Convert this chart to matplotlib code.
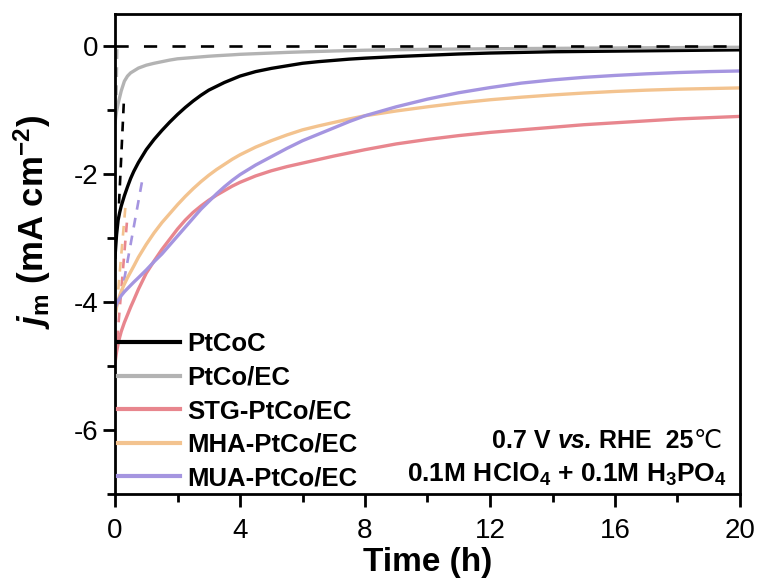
import matplotlib
matplotlib.use("Agg")
import matplotlib.pyplot as plt
from matplotlib.ticker import MultipleLocator

plt.rcParams['font.family'] = ['Liberation Sans', 'DejaVu Sans']
plt.rcParams['axes.unicode_minus'] = False
plt.rcParams['mathtext.fontset'] = 'custom'
plt.rcParams['mathtext.rm'] = 'Liberation Sans:bold'
plt.rcParams['mathtext.bf'] = 'Liberation Sans:bold'
plt.rcParams['mathtext.it'] = 'Liberation Sans:bold:italic'
plt.rcParams['mathtext.bfit'] = 'Liberation Sans:bold:italic'
plt.rcParams['lines.scale_dashes'] = False

# ---------------- data ----------------
t = [0, 0.05, 0.1, 0.15, 0.2, 0.3, 0.4, 0.5, 0.6, 0.75,
     1, 1.25, 1.5, 1.75, 2, 2.25, 2.5, 2.75, 3, 3.25,
     3.5, 3.75, 4, 4.5, 5, 5.5, 6, 6.5, 7, 7.5,
     8, 9, 10, 11, 12, 13, 14, 15, 16, 17,
     18, 19, 20]

ptcoc = [-3.3, -2.95, -2.72, -2.6, -2.5, -2.34, -2.2, -2.07, -1.96, -1.82,
         -1.62, -1.46, -1.32, -1.19, -1.07, -0.96, -0.86, -0.77, -0.69, -0.63,
         -0.57, -0.52, -0.47, -0.4, -0.35, -0.31, -0.27, -0.245, -0.225, -0.205,
         -0.19, -0.165, -0.145, -0.125, -0.11, -0.1, -0.09, -0.085, -0.08, -0.075,
         -0.07, -0.065, -0.06]
ptco_ec = [-1.2, -1.02, -0.9, -0.8, -0.7, -0.55, -0.47, -0.42, -0.39, -0.345,
           -0.3, -0.27, -0.245, -0.22, -0.2, -0.19, -0.18, -0.17, -0.16, -0.152,
           -0.145, -0.138, -0.13, -0.12, -0.11, -0.1, -0.092, -0.085, -0.078, -0.072,
           -0.066, -0.058, -0.052, -0.047, -0.043, -0.04, -0.037, -0.034, -0.031, -0.028,
           -0.025, -0.022, -0.02]
stg = [-4.95, -4.78, -4.65, -4.55, -4.46, -4.32, -4.2, -4.08, -3.97, -3.8,
       -3.55, -3.36, -3.18, -3.02, -2.86, -2.72, -2.6, -2.5, -2.41, -2.33,
       -2.26, -2.19, -2.13, -2.03, -1.95, -1.885, -1.83, -1.775, -1.72, -1.67,
       -1.62, -1.53, -1.46, -1.4, -1.35, -1.31, -1.27, -1.23, -1.2, -1.17,
       -1.14, -1.12, -1.1]
mha = [-4.25, -4.08, -3.98, -3.9, -3.83, -3.72, -3.62, -3.53, -3.44, -3.3,
       -3.1, -2.92, -2.76, -2.62, -2.48, -2.35, -2.23, -2.12, -2.02, -1.93,
       -1.85, -1.77, -1.7, -1.58, -1.48, -1.39, -1.31, -1.25, -1.195, -1.14,
       -1.09, -1.015, -0.95, -0.89, -0.84, -0.8, -0.765, -0.735, -0.71, -0.69,
       -0.675, -0.665, -0.655]
mua = [-4.1, -4.03, -3.98, -3.94, -3.9, -3.84, -3.79, -3.74, -3.69, -3.62,
       -3.5, -3.37, -3.25, -3.11, -2.97, -2.83, -2.69, -2.55, -2.43, -2.31,
       -2.2, -2.1, -2.01, -1.86, -1.73, -1.6, -1.48, -1.38, -1.28, -1.18,
       -1.09, -0.95, -0.83, -0.73, -0.65, -0.58, -0.53, -0.49, -0.46, -0.435,
       -0.415, -0.4, -0.39]

labels = ['PtCoC', 'PtCo/EC', 'STG-PtCo/EC', 'MHA-PtCo/EC', 'MUA-PtCo/EC']
colors = ['#000000', '#B3B3B3', '#E8868E', '#F3C38F', '#A595E0']

# initial-slope guide lines (dashed)
fit_t = {'PtCoC': [0.28, 0.12], 'PtCo/EC': [0.07, 0.04], 'STG-PtCo/EC': [0.38, 0.05],
         'MHA-PtCo/EC': [0.33, 0.07], 'MUA-PtCo/EC': [0.86, 0.22]}
fit_j = {'PtCoC': [-0.9, -2.55], 'PtCo/EC': [-0.05, -1.0], 'STG-PtCo/EC': [-2.76, -4.7],
         'MHA-PtCo/EC': [-2.53, -4.0], 'MUA-PtCo/EC': [-2.13, -3.85]}
zero_t = [0, 20]
zero_j = [0, 0]

xticks = [0, 4, 8, 12, 16, 20]
yticks = [0, -2, -4, -6]

# ---------------- figure ----------------
fig = plt.figure(figsize=(7.6, 5.85), dpi=100)
ax = fig.add_axes([115/760, 1-494/585, 625/760, 480/585])

series = [ptcoc, ptco_ec, stg, mha, mua]
lw = 2.4
dash = (9.5, 11)
ax.plot(zero_t, zero_j, color='black', lw=1.9, dashes=dash, zorder=3)
for lab, col in zip(labels, colors):
    ax.plot(fit_t[lab], fit_j[lab], color=col, lw=1.9, dashes=(7, 6), zorder=2)
for y, lab, col in zip(series, labels, colors):
    ax.plot(t, y, color=col, lw=lw, label=lab, zorder=2)

ax.set_xlim(0, 20)
ax.set_ylim(-7, 0.5)
ax.set_xticks(xticks)
ax.set_yticks(yticks)
ax.xaxis.set_minor_locator(MultipleLocator(2))
ax.yaxis.set_minor_locator(MultipleLocator(1))
for s in ax.spines.values():
    s.set_linewidth(2.0)
ax.tick_params(which='major', direction='out', length=9, width=2.0, labelsize=20)
ax.tick_params(which='minor', direction='out', length=5.5, width=2.0)
ax.tick_params(axis='x', which='major', pad=8)
ax.tick_params(axis='y', which='major', pad=3)

ax.set_xlabel('Time (h)', fontsize=24, fontweight='bold')
ax.xaxis.set_label_coords(0.501, -0.11)
ax.xaxis.label.set_va('top')
ax.set_ylabel(r'$\mathit{j}_{\mathrm{m}}$ (mA cm$^{\mathrm{-2}}$)', fontsize=25, fontweight='bold')
ax.yaxis.set_label_coords(-0.099, 0.567)

leg = ax.legend(loc='upper left', bbox_to_anchor=(0.005, 0.3375), frameon=False,
                prop={'weight': 'bold', 'size': 18.5}, handlelength=2.4, handletextpad=0.3,
                labelspacing=0.37, borderpad=0, borderaxespad=0)
for h in leg.get_lines():
    h.set_linewidth(3.0)

# annotation, line 1 assembled right to left
t_deg = ax.text(0.971, 0.085, '\u2103', transform=ax.transAxes, ha='right', va='bottom',
                fontsize=18, family=['DejaVu Sans'], fontweight='normal')
t_rhe = ax.annotate(' RHE  25', xy=(0, 0), xycoords=t_deg, ha='right', va='bottom',
                    fontsize=18, fontweight='bold')
t_vs = ax.annotate('vs.', xy=(0, 0), xycoords=t_rhe, ha='right', va='bottom',
                   fontsize=18, fontweight='bold', fontstyle='italic')
ax.annotate('0.7 V ', xy=(0, 0), xycoords=t_vs, ha='right', va='bottom',
            fontsize=18, fontweight='bold')
ax.text(0.979, 0.025, r'0.1M HClO$_4$ + 0.1M H$_3$PO$_4$', transform=ax.transAxes,
        ha='right', va='baseline', fontsize=19, fontweight='bold')

fig.savefig('out.png', dpi=100)
